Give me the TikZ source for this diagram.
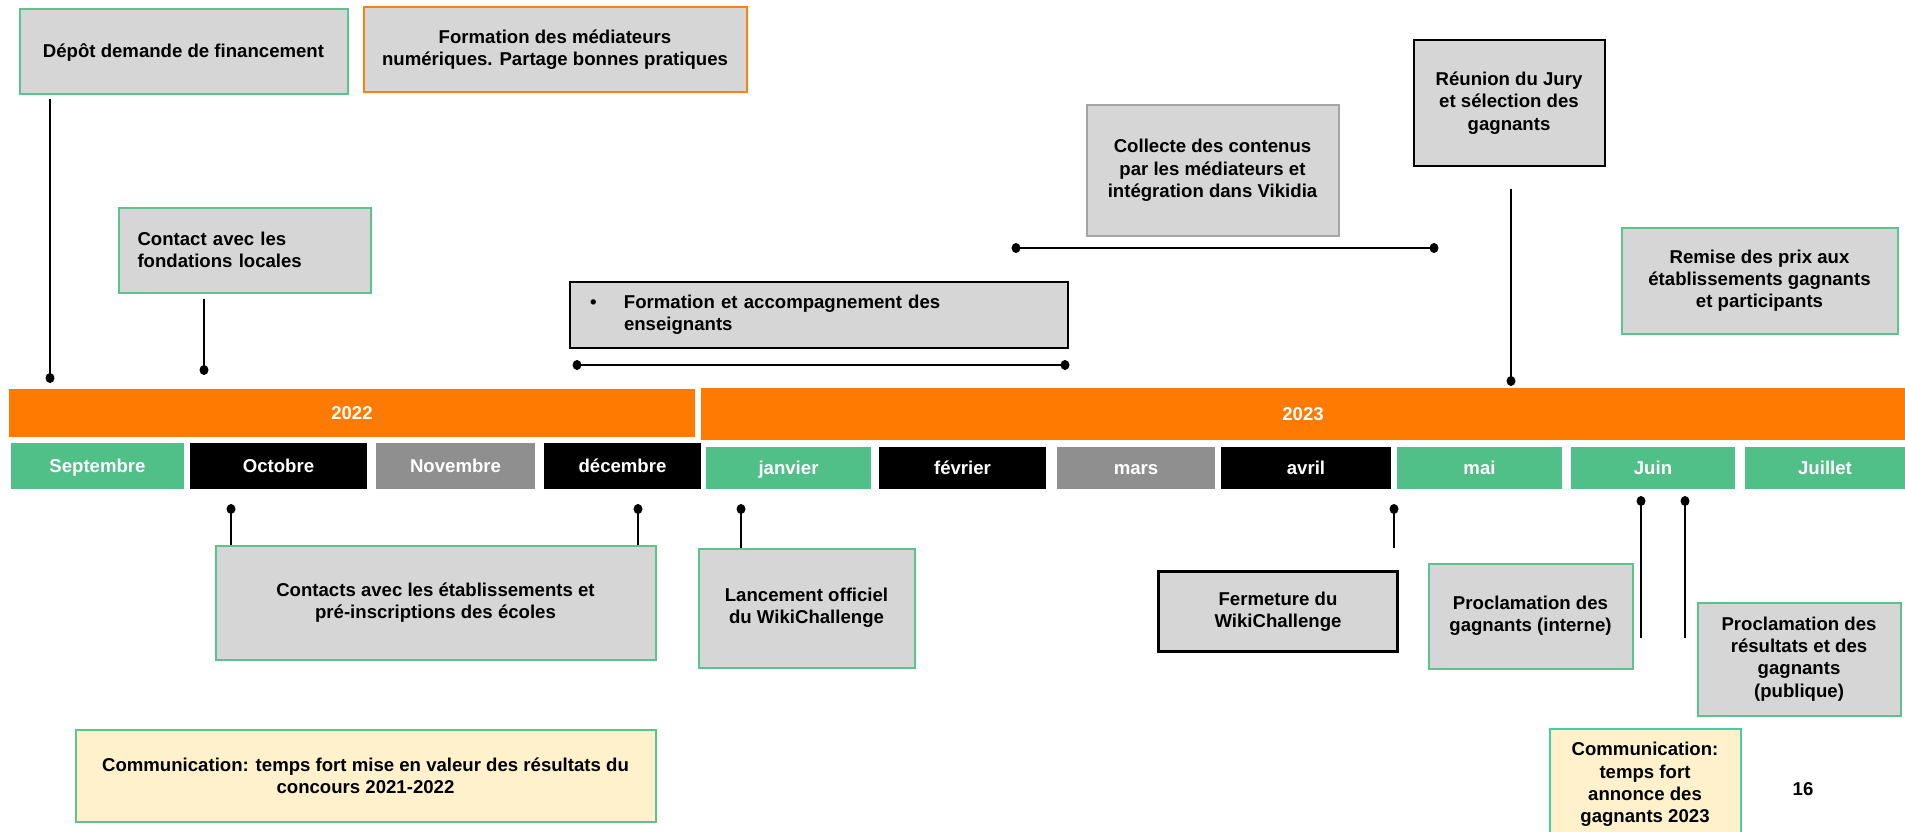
\documentclass[tikz,border=0pt]{standalone}
\usepackage{fontspec}
\setmainfont{Liberation Sans}
\usetikzlibrary{calc}
\definecolor{orng}{HTML}{FF7A00}
\definecolor{orngb}{HTML}{FF8010}
\definecolor{mgreen}{HTML}{50BF88}
\definecolor{mgray}{HTML}{8F8F8F}
\definecolor{boxgray}{HTML}{D6D6D6}
\definecolor{bgreen}{HTML}{5CC28E}
\definecolor{tgreen}{HTML}{40D0A0}
\definecolor{cgray}{HTML}{A5A5A5}
\definecolor{cyellow}{HTML}{FFF1CC}
\begin{document}
\begin{tikzpicture}[x=1pt,y=-1pt,
  txt/.style={font=\fontsize{18.6}{22.3}\selectfont\bfseries},
  box/.style={txt, draw=bgreen, fill=boxgray, line width=2pt, inner sep=0pt, align=center, text=black},
  bar/.style={txt, fill=orng, inner sep=0pt, text=white, text height=13pt, text depth=0pt},
  month/.style={txt, inner sep=0pt, text=white, minimum height=46, text height=13pt, text depth=0pt},
  conn/.style={line width=2.6pt, black},
  dotmark/.style={fill=black}]
\useasboundingbox (0,0) rectangle (1905,832);
\fill[white] (0,0) rectangle (1905,832);

% year bars
\node[bar, minimum width=686, minimum height=48] (y22) at (352,413) {2022};
\node[bar, minimum width=1204, minimum height=52] (y23) at (1303,414) {2023};

% months
\node[month, fill=mgreen, minimum width=173] (sep) at (97.5,466) {Septembre};
\node[month, fill=black, minimum width=177] (oct) at (278.5,466) {Octobre};
\node[month, fill=mgray, minimum width=159] (nov) at (455.5,466) {Novembre};
\node[month, fill=black, minimum width=157] (dec) at (622.5,466) {décembre};
\node[month, fill=mgreen, minimum width=165, minimum height=42] (jan) at (788.5,468) {janvier};
\node[month, fill=black, minimum width=167, minimum height=42] (feb) at (962.5,468) {février};
\node[month, fill=mgray, minimum width=158, minimum height=42] (mar) at (1136,468) {mars};
\node[month, fill=black, minimum width=170, minimum height=42] (apr) at (1306,468) {avril};
\node[month, fill=mgreen, minimum width=165, minimum height=42] (mai) at (1479.5,468) {mai};
\node[month, fill=mgreen, minimum width=164, minimum height=42] (jun) at (1653,468) {Juin};
\node[month, fill=mgreen, minimum width=160, minimum height=42] (jul) at (1825,468) {Juillet};

% boxes above
\node[box, minimum width=328, minimum height=85] (dep) at (183.5,52) {Dépôt demande de financement};
\node[box, draw=orngb, minimum width=383, minimum height=85] (formm) at (555,50) {Formation des médiateurs\\numériques. Partage bonnes pratiques};
\node[box, minimum width=252, minimum height=85, align=left, text width=214, inner xsep=19] (contf) at (244.5,250) {Contact avec les\\fondations locales};
\node[box, draw=black, minimum width=497, minimum height=66, align=left, text width=458, inner xsep=20] (forme) at (819,314.5) {\makebox[34pt][l]{•}Formation et accompagnement des\\\hspace*{34pt}enseignants};
\node[box, draw=cgray, minimum width=252, minimum height=130] (coll) at (1212.5,170.5) {Collecte des contenus\\par les médiateurs et\\intégration dans Vikidia};
\node[box, draw=black, minimum width=191, minimum height=125] (reun) at (1509,103) {Réunion du Jury\\et sélection des\\gagnants};
\node[box, minimum width=276, minimum height=106] (remise) at (1759.5,280.5) {Remise des prix aux\\établissements gagnants\\et participants};

% boxes below
\node[box, minimum width=440, minimum height=114] (conte) at (435.5,602.5) {Contacts avec les établissements et\\pré-inscriptions des écoles};
\node[box, minimum width=216, minimum height=119] (lanc) at (806.5,608) {Lancement officiel\\du WikiChallenge};
\node[box, draw=black, line width=3pt, minimum width=239, minimum height=80] (ferm) at (1278,611.5) {Fermeture du\\WikiChallenge};
\node[box, minimum width=204, minimum height=105] (procl) at (1530.5,616) {Proclamation des\\gagnants (interne)};
\node[box, minimum width=203, minimum height=113] (procp) at (1799,659) {Proclamation des\\résultats et des\\gagnants\\(publique)};
\node[box, fill=cyellow, minimum width=580, minimum height=92] (comm1) at (365.5,776) {Communication: temps fort mise en valeur des résultats du\\concours 2021-2022};
\node[box, draw=tgreen, fill=cyellow, minimum width=191, minimum height=111] (comm2) at (1645,784.5) {Communication:\\temps fort\\annonce des\\gagnants 2023};
\node[txt, inner sep=0pt] (page) at (1803,789) {16};

% connector end points
\coordinate (p1) at (50,378);
\coordinate (p2) at (204,370);
\coordinate (p3a) at (577,365);
\coordinate (p3b) at (1065,365);
\coordinate (p4a) at (1016,248);
\coordinate (p4b) at (1434,248);
\coordinate (p5) at (1511,381);
\coordinate (p6a) at (231,509);
\coordinate (p6b) at (638,509);
\coordinate (p7) at (741,509);
\coordinate (p8) at (1394,509);
\coordinate (p9) at (1641,501);
\coordinate (p10) at (1685,501);

\draw[conn] ($(dep.south -| p1)+(0,4)$) -- (p1);
\draw[conn] ($(contf.south -| p2)+(0,5)$) -- (p2);
\draw[conn] (p3a) -- (p3b);
\draw[conn] (p4a) -- (p4b);
\draw[conn] ($(reun.south -| p5)+(0,22)$) -- (p5);
\draw[conn] (p6a) -- (p6a |- conte.north);
\draw[conn] (p6b) -- (p6b |- conte.north);
\draw[conn] (p7) -- (p7 |- lanc.north);
\draw[conn] (p8) -- ($(p8)+(0,39)$);
\draw[conn] (p9) -- ($(p9)+(0,137)$);
\draw[conn] (p10) -- ($(p10)+(0,137)$);

\foreach \p in {p1,p2,p3a,p3b,p4a,p4b,p5,p6a,p6b,p7,p8,p9,p10}
  \fill[dotmark] (\p) ellipse [x radius=4.5pt, y radius=5pt];
\end{tikzpicture}
\end{document}
